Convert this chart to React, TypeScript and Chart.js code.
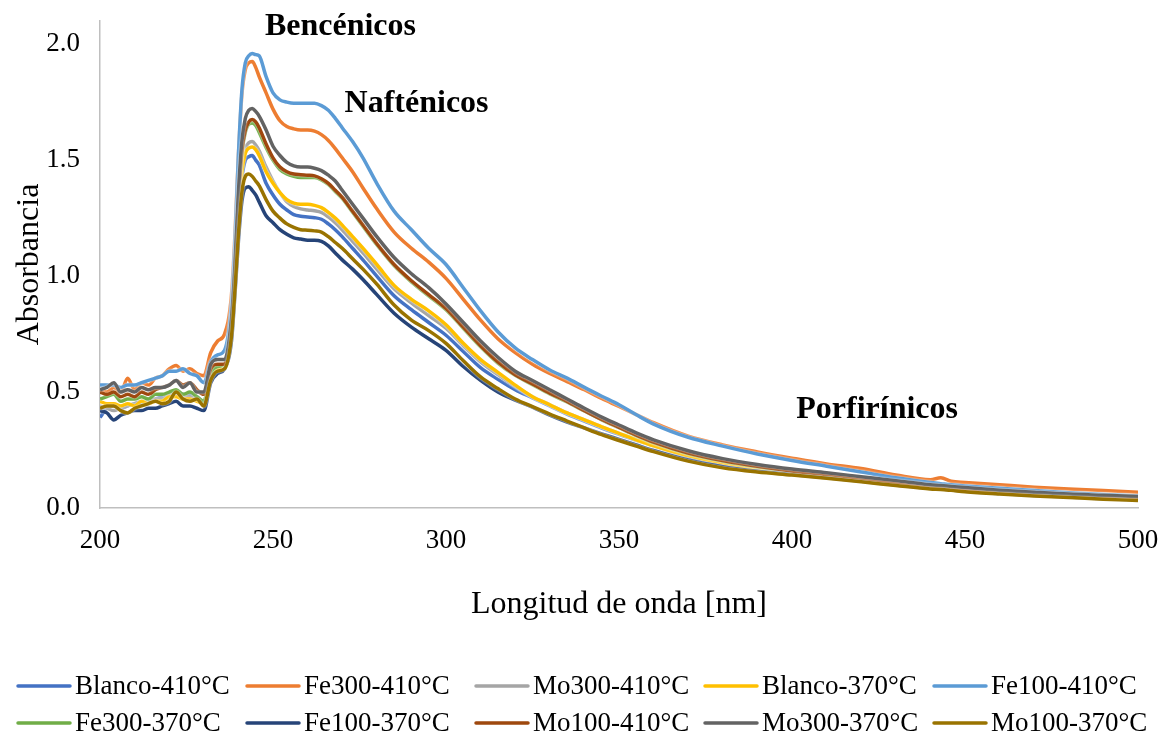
import React, { useEffect, useRef } from "react";
import { Chart, registerables } from "chart.js";

Chart.register(...registerables);

const wavelengths = [
  200, 202, 204, 206, 208, 210, 212, 214, 216, 218, 220, 222, 224, 226, 228, 230, 232, 234,
  236, 238, 239, 240, 241, 242, 243, 244, 245,
  246, 248, 250, 252, 254, 256, 258, 260, 262, 264, 266, 268, 270,
  273, 276, 280, 285, 290, 295, 300, 305, 310, 315, 320, 325, 330, 335, 340, 345, 350, 355, 360,
  370, 380, 390, 400, 410, 420, 430, 440, 443, 446, 450, 460, 470, 480, 490, 500,
];

const blanco410 = [
  0.39, 0.43, 0.44, 0.43, 0.44, 0.45, 0.45, 0.46, 0.47, 0.48, 0.49, 0.50, 0.49, 0.49, 0.48, 0.46, 0.57, 0.60,
  0.62, 0.78, 0.98, 1.24, 1.42, 1.50, 1.515, 1.52, 1.50,
  1.48, 1.40, 1.35, 1.31, 1.285, 1.265, 1.258, 1.255, 1.252, 1.245, 1.225, 1.20, 1.17,
  1.12, 1.07, 1.00, 0.915, 0.855, 0.80, 0.745, 0.675, 0.605, 0.555, 0.51, 0.475, 0.44, 0.405, 0.375, 0.345, 0.318, 0.292, 0.268,
  0.222, 0.19, 0.168, 0.15, 0.135, 0.12, 0.105, 0.09, 0.087, 0.083, 0.077, 0.068, 0.06, 0.053, 0.047, 0.042,
];
const fe300_410 = [
  0.51, 0.50, 0.52, 0.50, 0.56, 0.51, 0.54, 0.53, 0.56, 0.57, 0.60, 0.615, 0.59, 0.60, 0.58, 0.57, 0.67, 0.72,
  0.75, 0.92, 1.18, 1.52, 1.78, 1.89, 1.92, 1.925, 1.90,
  1.86, 1.79, 1.72, 1.67, 1.645, 1.635, 1.63, 1.63, 1.625, 1.61, 1.585, 1.55, 1.51,
  1.45, 1.38, 1.29, 1.19, 1.12, 1.06, 0.99, 0.90, 0.81, 0.73, 0.67, 0.62, 0.58, 0.545, 0.51, 0.472, 0.438, 0.403, 0.368,
  0.31, 0.272, 0.242, 0.215, 0.19, 0.17, 0.142, 0.122, 0.13, 0.115, 0.11, 0.10, 0.09, 0.082, 0.075, 0.068,
];
const mo300_410 = [
  0.44, 0.43, 0.42, 0.43, 0.44, 0.45, 0.46, 0.46, 0.47, 0.47, 0.49, 0.49, 0.48, 0.48, 0.47, 0.46, 0.58, 0.61,
  0.62, 0.78, 1.00, 1.28, 1.47, 1.55, 1.575, 1.58, 1.565,
  1.54, 1.47, 1.41, 1.36, 1.32, 1.30, 1.29, 1.285, 1.282, 1.275, 1.255, 1.23, 1.20,
  1.15, 1.10, 1.03, 0.945, 0.885, 0.83, 0.775, 0.70, 0.63, 0.575, 0.525, 0.48, 0.445, 0.41, 0.38, 0.35, 0.322, 0.296, 0.272,
  0.228, 0.198, 0.173, 0.155, 0.14, 0.125, 0.108, 0.093, 0.09, 0.087, 0.08, 0.07, 0.062, 0.055, 0.049, 0.044,
];
const blanco370 = [
  0.46, 0.45, 0.45, 0.44, 0.45, 0.44, 0.46, 0.45, 0.46, 0.46, 0.48, 0.48, 0.47, 0.47, 0.46, 0.45, 0.56, 0.60,
  0.60, 0.77, 0.98, 1.26, 1.45, 1.53, 1.552, 1.557, 1.545,
  1.52, 1.45, 1.40, 1.36, 1.33, 1.315, 1.31, 1.31, 1.305, 1.295, 1.275, 1.25, 1.22,
  1.17, 1.12, 1.05, 0.96, 0.90, 0.85, 0.79, 0.71, 0.64, 0.585, 0.53, 0.48, 0.445, 0.41, 0.38, 0.35, 0.322, 0.294, 0.268,
  0.225, 0.195, 0.17, 0.15, 0.135, 0.12, 0.105, 0.09, 0.087, 0.083, 0.077, 0.068, 0.06, 0.053, 0.047, 0.042,
];
const fe100_410 = [
  0.53, 0.53, 0.53, 0.52, 0.53, 0.53, 0.54, 0.55, 0.56, 0.57, 0.59, 0.59, 0.60, 0.58, 0.57, 0.54, 0.63, 0.66,
  0.68, 0.88, 1.15, 1.52, 1.80, 1.92, 1.95, 1.96, 1.955,
  1.95, 1.86, 1.79, 1.76, 1.75, 1.745, 1.745, 1.745, 1.745, 1.735, 1.715, 1.68, 1.64,
  1.58, 1.51, 1.40, 1.28, 1.20, 1.12, 1.05, 0.95, 0.85, 0.76, 0.69, 0.64, 0.595, 0.56, 0.52, 0.482, 0.445, 0.402, 0.362,
  0.305, 0.267, 0.233, 0.205, 0.18, 0.155, 0.13, 0.11, 0.105, 0.10, 0.095, 0.085, 0.075, 0.066, 0.058, 0.052,
];
const fe300_370 = [
  0.47, 0.48, 0.49, 0.46, 0.47, 0.47, 0.48, 0.47, 0.49, 0.49, 0.50, 0.51, 0.49, 0.50, 0.48, 0.46, 0.58, 0.61,
  0.62, 0.80, 1.02, 1.32, 1.53, 1.62, 1.655, 1.66, 1.65,
  1.62, 1.555, 1.50, 1.46, 1.44, 1.43, 1.425, 1.425, 1.425, 1.415, 1.395, 1.365, 1.335,
  1.275, 1.215, 1.135, 1.045, 0.975, 0.915, 0.855, 0.775, 0.695, 0.625, 0.572, 0.532, 0.492, 0.457, 0.418, 0.38, 0.346, 0.312, 0.282,
  0.235, 0.203, 0.178, 0.158, 0.143, 0.126, 0.108, 0.093, 0.09, 0.086, 0.08, 0.07, 0.061, 0.054, 0.048, 0.043,
];
const fe100_370 = [
  0.42, 0.41, 0.38, 0.40, 0.41, 0.42, 0.42, 0.43, 0.43, 0.44, 0.45, 0.46, 0.44, 0.44, 0.43, 0.42, 0.54, 0.58,
  0.60, 0.72, 0.92, 1.15, 1.32, 1.38, 1.385, 1.37, 1.35,
  1.32, 1.26, 1.23, 1.20, 1.18, 1.165, 1.16, 1.155, 1.155, 1.15, 1.13, 1.10, 1.07,
  1.03, 0.985, 0.92, 0.84, 0.78, 0.73, 0.68, 0.61, 0.55, 0.50, 0.465, 0.435, 0.40, 0.37, 0.345, 0.32, 0.296, 0.272, 0.248,
  0.207, 0.178, 0.158, 0.144, 0.13, 0.115, 0.099, 0.084, 0.082, 0.078, 0.072, 0.062, 0.054, 0.047, 0.04, 0.035,
];
const mo100_410 = [
  0.50, 0.49, 0.50, 0.48, 0.49, 0.48, 0.50, 0.49, 0.51, 0.52, 0.53, 0.55, 0.53, 0.54, 0.51, 0.49, 0.60, 0.62,
  0.62, 0.80, 1.03, 1.33, 1.54, 1.63, 1.665, 1.675, 1.665,
  1.64, 1.57, 1.51, 1.47, 1.45, 1.44, 1.437, 1.435, 1.432, 1.42, 1.40, 1.37, 1.34,
  1.28, 1.22, 1.14, 1.05, 0.98, 0.92, 0.86, 0.78, 0.70, 0.63, 0.575, 0.535, 0.495, 0.46, 0.42, 0.382, 0.348, 0.314, 0.284,
  0.237, 0.205, 0.18, 0.16, 0.145, 0.128, 0.11, 0.095, 0.092, 0.088, 0.082, 0.072, 0.063, 0.056, 0.05, 0.045,
];
const mo300_370 = [
  0.51, 0.52, 0.54, 0.50, 0.51, 0.50, 0.52, 0.51, 0.52, 0.52, 0.53, 0.55, 0.52, 0.54, 0.50, 0.50, 0.62, 0.64,
  0.64, 0.82, 1.05, 1.36, 1.58, 1.68, 1.715, 1.723, 1.71,
  1.69, 1.63, 1.56, 1.52, 1.49, 1.475, 1.47, 1.47, 1.465, 1.455, 1.435, 1.41, 1.37,
  1.31, 1.25, 1.17, 1.08, 1.01, 0.95, 0.88, 0.80, 0.72, 0.65, 0.59, 0.55, 0.51, 0.47, 0.43, 0.392, 0.358, 0.324, 0.294,
  0.247, 0.213, 0.188, 0.168, 0.152, 0.135, 0.118, 0.10, 0.097, 0.093, 0.088, 0.077, 0.068, 0.06, 0.055, 0.05,
];
const mo100_370 = [
  0.43, 0.44, 0.44, 0.42, 0.41, 0.43, 0.44, 0.45, 0.46, 0.45, 0.46, 0.50, 0.47, 0.46, 0.47, 0.44, 0.55, 0.59,
  0.60, 0.74, 0.94, 1.18, 1.36, 1.43, 1.44, 1.43, 1.41,
  1.39, 1.33, 1.28, 1.25, 1.225, 1.21, 1.20, 1.198, 1.195, 1.19, 1.17, 1.145, 1.12,
  1.075, 1.03, 0.965, 0.875, 0.81, 0.765, 0.71, 0.635, 0.565, 0.515, 0.47, 0.437, 0.405, 0.375, 0.345, 0.316, 0.291, 0.267, 0.243,
  0.202, 0.173, 0.155, 0.142, 0.128, 0.113, 0.097, 0.082, 0.08, 0.076, 0.07, 0.06, 0.052, 0.045, 0.038, 0.032,
];

const seriesLabels = [
  "Blanco-410°C", "Fe300-410°C", "Mo300-410°C", "Blanco-370°C", "Fe100-410°C",
  "Fe300-370°C", "Fe100-370°C", "Mo100-410°C", "Mo300-370°C", "Mo100-370°C",
];
const seriesValues = [
  blanco410, fe300_410, mo300_410, blanco370, fe100_410,
  fe300_370, fe100_370, mo100_410, mo300_370, mo100_370,
];
const seriesColors = [
  "#4472C4", "#ED7D31", "#A5A5A5", "#FFC000", "#5B9BD5",
  "#70AD47", "#264478", "#9E480E", "#636363", "#997300",
];

const xTicks = [200, 250, 300, 350, 400, 450, 500];
const yTicks = [0, 0.5, 1.0, 1.5, 2.0];

const annotationLabels = ["Bencénicos", "Nafténicos", "Porfirínicos"];
const annotationX = [269.5, 291.5, 424.6];
const annotationY = [2.075, 1.745, 0.425];

const FONT = '"Liberation Serif", "Times New Roman", serif';

const glowPlugin = {
  id: "glow",
  beforeDatasetDraw(chart: any) {
    const ctx = chart.ctx;
    ctx.save();
    ctx.shadowColor = "rgba(255,255,255,0.95)";
    ctx.shadowBlur = 2;
  },
  afterDatasetDraw(chart: any) {
    chart.ctx.restore();
  },
};

const annotationPlugin = {
  id: "annotations",
  afterDatasetsDraw(chart: any) {
    const ctx = chart.ctx;
    const xs = chart.scales.x;
    const ys = chart.scales.y;
    ctx.save();
    ctx.font = `bold 32px ${FONT}`;
    ctx.fillStyle = "#000";
    ctx.textAlign = "center";
    ctx.textBaseline = "middle";
    annotationLabels.forEach((t, i) => {
      ctx.fillText(t, xs.getPixelForValue(annotationX[i]), ys.getPixelForValue(annotationY[i]));
    });
    ctx.restore();
  },
};

const legendPlugin = {
  id: "gridLegend",
  afterDraw(chart: any) {
    const ctx = chart.ctx;
    ctx.save();
    ctx.font = `27px ${FONT}`;
    ctx.textBaseline = "middle";
    ctx.textAlign = "left";
    chart.data.datasets.forEach((ds: any, i: number) => {
      const col = i % 5;
      const row = Math.floor(i / 5);
      const x0 = 17 + col * 229;
      const y = 686 + row * 37;
      ctx.strokeStyle = ds.borderColor;
      ctx.lineWidth = 3.5;
      ctx.lineCap = "round";
      ctx.beginPath();
      ctx.moveTo(x0 + 1, y);
      ctx.lineTo(x0 + 53, y);
      ctx.stroke();
      ctx.fillStyle = "#000";
      ctx.fillText(ds.label, x0 + 58, y + 1);
    });
    ctx.restore();
  },
};

export default function App() {
  const canvasRef = useRef<HTMLCanvasElement | null>(null);

  useEffect(() => {
    if (!canvasRef.current) return;
    const datasets = seriesLabels.map((label, i) => ({
      label,
      data: wavelengths.map((x, j) => ({ x, y: seriesValues[i][j] })),
      borderColor: seriesColors[i],
      backgroundColor: seriesColors[i],
      borderWidth: 3.5,
      pointRadius: 0,
      fill: false,
      cubicInterpolationMode: "monotone" as const,
      order: seriesLabels.length - i,
    }));

    const chart = new Chart(canvasRef.current, {
      type: "line",
      data: { datasets },
      options: {
        animation: false,
        responsive: false,
        maintainAspectRatio: false,
        layout: { padding: { left: 0, right: 26, top: 21, bottom: 100 } },
        plugins: {
          legend: { display: false },
          tooltip: { enabled: false },
          title: { display: false },
        },
        scales: {
          x: {
            type: "linear",
            min: 200,
            max: 500,
            grid: {
              display: true,
              drawOnChartArea: false,
              drawTicks: true,
              tickLength: 17,
              color: "rgba(0,0,0,0)",
            },
            border: { display: true, color: "#bfbfbf", width: 1.5 },
            afterBuildTicks: (scale: any) => {
              scale.ticks = xTicks.map((v) => ({ value: v }));
            },
            afterFit: (scale: any) => {
              scale.height = 130;
            },
            ticks: {
              padding: 0,
              color: "#000",
              font: { family: FONT, size: 27 },
              maxRotation: 0,
              callback: (v: any) => String(v),
            },
            title: {
              display: true,
              text: "Longitud de onda [nm]",
              color: "#000",
              font: { family: FONT, size: 32 },
              padding: { top: 0, bottom: 14 },
            },
          },
          y: {
            type: "linear",
            min: 0,
            max: 2.1,
            grid: {
              display: true,
              drawOnChartArea: false,
              drawTicks: true,
              tickLength: 20,
              color: "rgba(0,0,0,0)",
            },
            border: { display: true, color: "#bfbfbf", width: 1.5 },
            afterBuildTicks: (scale: any) => {
              scale.ticks = yTicks.map((v) => ({ value: v }));
            },
            afterFit: (scale: any) => {
              scale.width = 100;
            },
            ticks: {
              padding: 0,
              color: "#000",
              font: { family: FONT, size: 27 },
              callback: (v: any) => Number(v).toFixed(1),
            },
            title: {
              display: true,
              text: "Absorbancia",
              color: "#000",
              font: { family: FONT, size: 32 },
              padding: { top: 10, bottom: 0 },
            },
          },
        },
      },
      plugins: [glowPlugin, annotationPlugin, legendPlugin],
    });

    return () => chart.destroy();
  }, []);

  return (
    <div style={{ position: "fixed", left: 0, top: 0, width: 1164, height: 738, background: "#fff" }}>
      <canvas ref={canvasRef} width={1164} height={738} style={{ width: 1164, height: 738, display: "block" }} />
    </div>
  );
}
